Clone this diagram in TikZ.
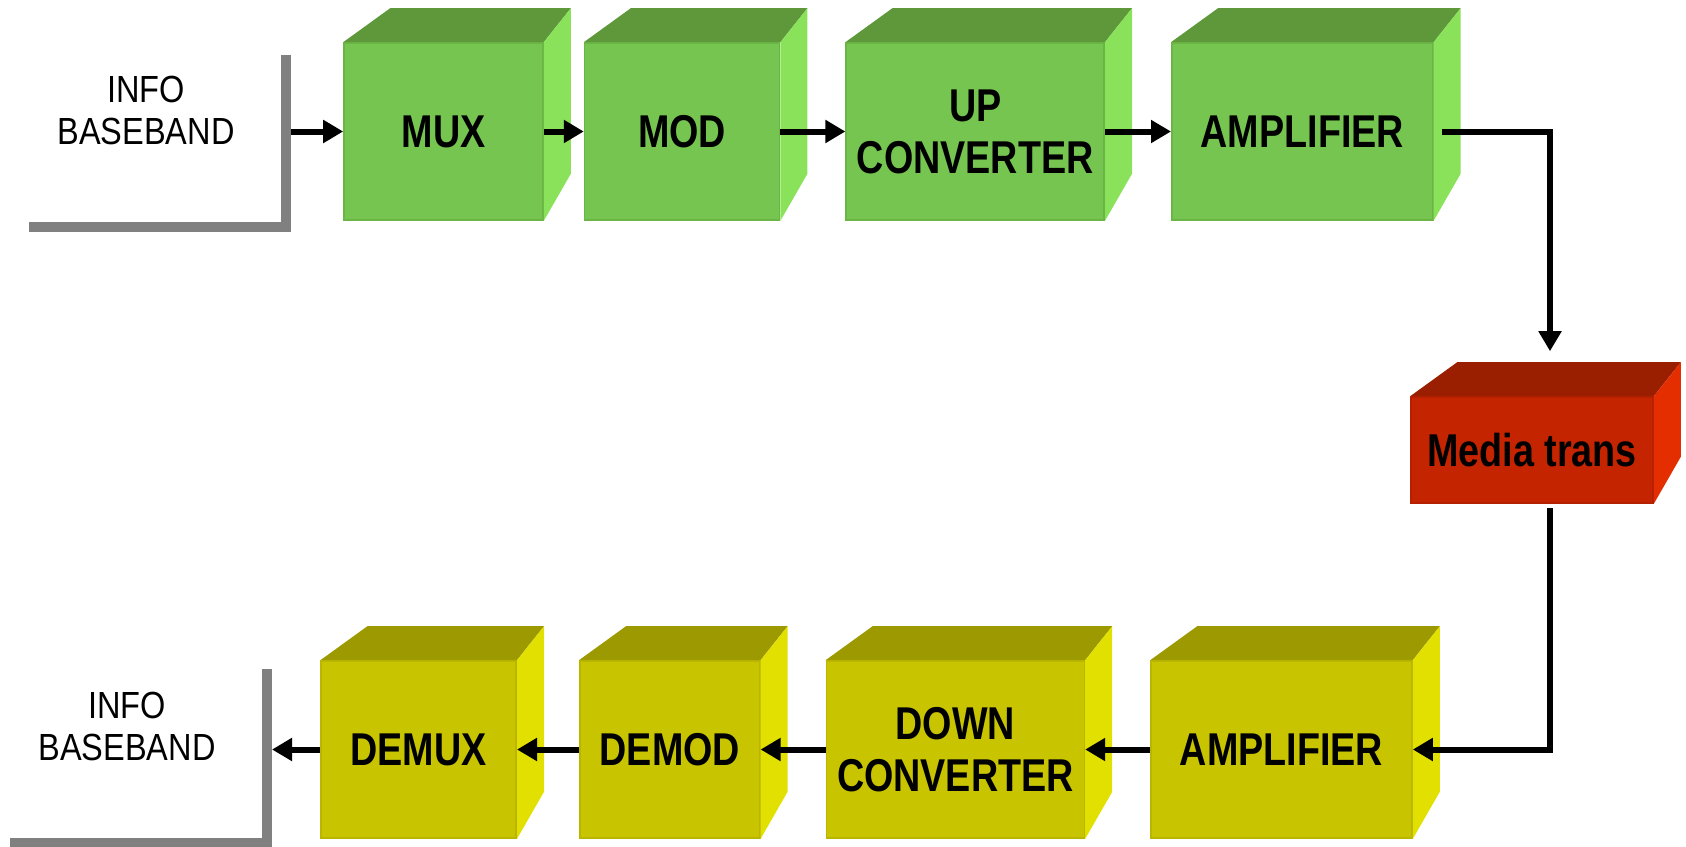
\documentclass[tikz,border=0pt]{standalone}
\usepackage{fontspec}
\setmainfont{Liberation Sans}[FakeStretch=0.82]
\newfontfamily\infofont{Liberation Sans}[FakeStretch=0.86]
\usetikzlibrary{calc,arrows.meta,positioning}
\definecolor{grnfront}{HTML}{76C551}
\definecolor{grntop}{HTML}{5E983A}
\definecolor{grnside}{HTML}{8AE25A}
\definecolor{grnedge}{HTML}{6AB545}
\definecolor{ylwfront}{HTML}{C8C400}
\definecolor{ylwtop}{HTML}{9C9A00}
\definecolor{ylwside}{HTML}{E2E000}
\definecolor{ylwedge}{HTML}{BAB600}
\definecolor{redfront}{HTML}{C42400}
\definecolor{redtop}{HTML}{9A1E00}
\definecolor{redside}{HTML}{E42E00}
\definecolor{rededge}{HTML}{B42000}
\tikzset{
  cube/.style={draw=#1edge, fill=#1front, line width=0.8pt, inner sep=0pt, align=center,
    minimum height=88.5pt, font=\bfseries\fontsize{23}{26}\selectfont},
  txcube/.style={cube=grn},
  rxcube/.style={cube=ylw},
  infotext/.style={align=center, font=\infofont\fontsize{18.9}{21}\selectfont},
  wall/.style={draw=gray, line width=5pt},
  arr/.style={-{Triangle[length=10pt,width=11pt]}, line width=3pt}
}
\newcommand\cubefaces[2]{%
  \fill[#2top] (#1.north west) -- ++(23.5pt,17pt) -- ($(#1.north east)+(13.5pt,17pt)$) -- (#1.north east) -- cycle;
  \fill[#2side] (#1.north east) -- ++(13.5pt,17pt) -- ($(#1.south east)+(13.5pt,23.5pt)$) -- (#1.south east) -- cycle;}

\begin{document}
\begin{tikzpicture}
  \useasboundingbox (0,0) rectangle (843pt,-423pt);

  \node[infotext] (srcinfo) at (73pt,-55.25pt) {INFO\\BASEBAND};
  \node[infotext] (sinkinfo) at (63.5pt,-363.25pt) {INFO\\BASEBAND};
  \draw[wall] (14.5pt,-113.5pt) -- (143pt,-113.5pt) -- (143pt,-27.5pt);
  \draw[wall] (5pt,-421.5pt) -- (133.5pt,-421.5pt) -- (133.5pt,-334.5pt);
  \coordinate (srcport) at (145.5pt,-65.75pt);
  \coordinate (sinkport) at (136pt,-374.75pt);

  \node[txcube, minimum width=99.5pt] (mux) at (221.75pt,-65.75pt) {MUX};
  \node[txcube, right=20pt of mux, minimum width=97.5pt] (mod) {MOD};
  \node[txcube, right=32.5pt of mod, minimum width=129pt] (up) {UP\\CONVERTER};
  \node[txcube, right=33pt of up, minimum width=130.5pt] (amp1) {AMPLIFIER};

  \node[cube=red, minimum width=121pt, minimum height=53pt] (media) at (766pt,-225pt) {Media trans};

  \node[rxcube, minimum width=130.5pt] (amp2) at (640.75pt,-374.75pt) {AMPLIFIER};
  \node[rxcube, left=32.5pt of amp2, minimum width=129pt] (down) {DOWN\\CONVERTER};
  \node[rxcube, left=32.5pt of down, minimum width=90pt] (demod) {DEMOD};
  \node[rxcube, left=31pt of demod, minimum width=97.5pt] (demux) {DEMUX};

  \cubefaces{mux}{grn}
  \cubefaces{mod}{grn}
  \cubefaces{up}{grn}
  \cubefaces{amp1}{grn}
  \cubefaces{media}{red}
  \cubefaces{amp2}{ylw}
  \cubefaces{down}{ylw}
  \cubefaces{demod}{ylw}
  \cubefaces{demux}{ylw}

  \coordinate (mediatop) at ($(media.north)+(9pt,17pt)$);
  \coordinate (mediabot) at ($(media.south)+(9pt,-2pt)$);

  \draw[arr] (srcport) -- (mux.west);
  \draw[arr] (mux.east) -- (mod.west);
  \draw[arr] (mod.east) -- (up.west);
  \draw[arr] (up.east) -- (amp1.west);
  \draw[arr, shorten <=4pt, shorten >=5.5pt] (amp1.east) -| (mediatop);
  \draw[arr] (mediabot) |- (amp2.east);
  \draw[arr] (amp2.west) -- (down.east);
  \draw[arr] (down.west) -- (demod.east);
  \draw[arr] (demod.west) -- (demux.east);
  \draw[arr] (demux.west) -- (sinkport);
\end{tikzpicture}
\end{document}
